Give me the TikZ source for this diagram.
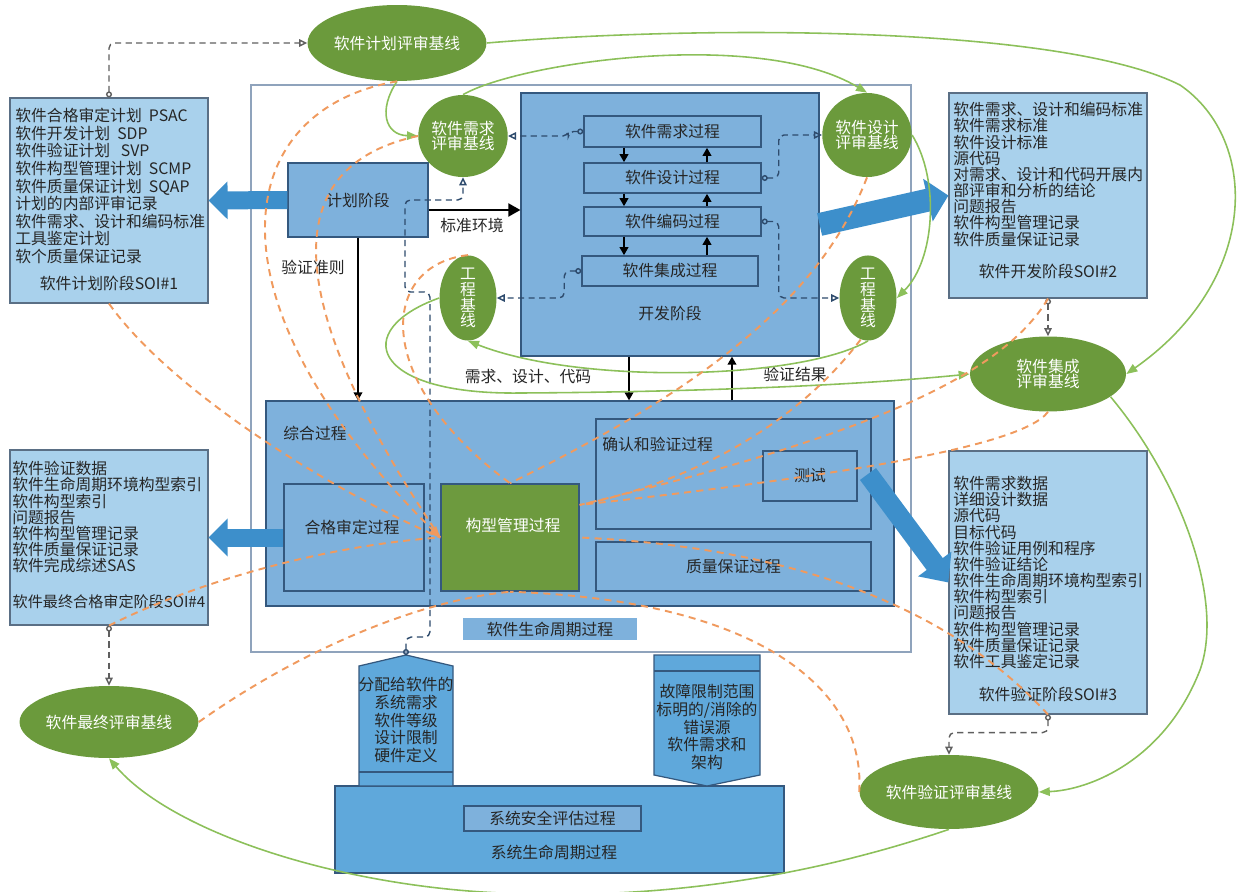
\documentclass[tikz,border=0pt]{standalone}
\usepackage{fontspec}
\setmainfont{Noto Sans CJK SC}
\usepackage{tikz}
\usetikzlibrary{shapes.geometric,arrows.meta}
\definecolor{soifill}{HTML}{A9D1EC}
\definecolor{soiline}{HTML}{5A6F85}
\definecolor{phase}{HTML}{7EB1DC}
\definecolor{phaseline}{HTML}{34587E}
\definecolor{cmgreen}{HTML}{6D9A3E}
\definecolor{blgreen}{HTML}{6B9A3C}
\definecolor{curvegreen}{HTML}{8CC05A}
\definecolor{cmorange}{HTML}{F09A5E}
\definecolor{bigblue}{HTML}{3D8FCB}
\definecolor{sysblue}{HTML}{5FA8DB}
\definecolor{frameline}{HTML}{8FA3BC}
\definecolor{linkblue}{HTML}{2E4B6D}
\definecolor{linkgrey}{HTML}{5F5F5F}
\definecolor{txtcol}{HTML}{262626}
\newcommand{\diagfont}{\fontsize{9pt}{10pt}\selectfont}
\newcommand{\soifont}{\fontsize{9pt}{9.2pt}\selectfont}
\newcommand{\blfont}{\fontsize{9pt}{9pt}\selectfont}
\tikzset{txt/.style={text=txtcol,inner sep=0pt,font=\diagfont}}
\tikzset{listtxt/.style={txt,align=left,anchor=north west,font=\soifont}}
\tikzset{frame/.style={draw=frameline,fill=white,line width=0.8pt,rectangle}}
\tikzset{tag/.style={fill=phase,rectangle,inner sep=0pt,text=txtcol,font=\diagfont}}
\tikzset{soi/.style={draw=soiline,fill=soifill,line width=0.7pt,rectangle}}
\tikzset{phase/.style={draw=phaseline,fill=phase,line width=0.7pt,rectangle,inner sep=0pt,text=txtcol,font=\diagfont}}
\tikzset{proc/.style={phase,line width=0.9pt}}
\tikzset{cmbox/.style={draw=phaseline,fill=cmgreen,line width=0.9pt,rectangle}}
\tikzset{ssabox/.style={draw=phaseline,fill=phase,line width=0.8pt,rectangle,inner sep=0pt,text=txtcol,font=\diagfont}}
\tikzset{sysbox/.style={draw=phaseline,fill=sysblue,line width=0.7pt}}
\tikzset{blnode/.style={ellipse,fill=blgreen,text=white,inner sep=0pt,align=center,font=\blfont}}
\tikzset{bigarrow/.style={draw=bigblue,line width=0.36cm,-{Triangle[length=0.38cm,width=0.74cm]}}}
\tikzset{flow/.style={draw=black,line width=1.1pt,-{Triangle[length=0.16cm,width=0.17cm]}}}
\tikzset{dashlink/.style={draw=linkblue,line width=0.8pt,dash pattern=on 3.5pt off 2.5pt,rounded corners=3pt,{Circle[open,length=0.12cm]}-{Triangle[open,length=0.16cm,width=0.15cm]}}}
\tikzset{greylink/.style={dashlink,draw=linkgrey}}
\tikzset{review/.style={draw=curvegreen,line width=0.9pt,-{Triangle[length=0.22cm,width=0.17cm]}}}
\tikzset{cmlink/.style={draw=cmorange,line width=1.1pt,dash pattern=on 4pt off 3pt}}

\begin{document}
\begin{tikzpicture}[x=0.02cm,y=-0.02cm]
    \useasboundingbox (0,0) rectangle (1251,892);

    % software life cycle
    \node[frame,minimum width=13.2cm,minimum height=11.34cm] (lcframe) at (581,368.5) {};
    \node[tag,minimum width=3.48cm,minimum height=0.44cm] (lctag) at (550,629) {软件生命周期过程};

    \node[phase,minimum width=2.8cm,minimum height=1.48cm] (plan) at (358,200) {计划阶段};
    \node[phase,minimum width=5.96cm,minimum height=5.26cm] (dev) at (670,224.5) {};
    \node[txt] (devl) at (670,313) {开发阶段};
    \node[proc,minimum width=3.54cm,minimum height=0.62cm] (reqp) at (672.5,131.5) {软件需求过程};
    \node[proc,minimum width=3.54cm,minimum height=0.6cm] (desp) at (672.5,178) {软件设计过程};
    \node[proc,minimum width=3.54cm,minimum height=0.58cm] (codp) at (672.5,221.5) {软件编码过程};
    \node[proc,minimum width=3.52cm,minimum height=0.6cm] (intp) at (670,271) {软件集成过程};

    \node[phase,minimum width=12.56cm,minimum height=4.1cm] (integ) at (580,503.5) {};
    \node[txt] (integl) at (315,433) {综合过程};
    \node[proc,minimum width=2.8cm,minimum height=2.14cm] (qual) at (354,537.5) {};
    \node[txt] (quall) at (352,527) {合格审定过程};
    \node[cmbox,minimum width=2.76cm,minimum height=2.14cm] (cm) at (510,537.5) {};
    \node[txt,text=white] (cml) at (513,525) {构型管理过程};
    \node[proc,minimum width=5.5cm,minimum height=2.2cm] (vv) at (733.5,474) {};
    \node[txt,anchor=west] (vvl) at (602,444) {确认和验证过程};
    \node[proc,minimum width=1.88cm,minimum height=1cm] (test) at (810,476) {测试};
    \node[proc,minimum width=5.5cm,minimum height=0.98cm] (qa) at (733.5,566.5) {质量保证过程};

    % SOI data
    \node[soi,minimum width=3.96cm,minimum height=4.1cm] (soi1) at (109,200.5) {};
    \node[listtxt,font=\diagfont] (soi1l) at (15,108)
    {软件合格审定计划\ \ PSAC\\软件开发计划\ \ SDP\\软件验证计划\ \ \ SVP\\软件构型管理计划\ \ SCMP\\软件质量保证计划\ \ SQAP\\计划的内部评审记录\\软件需求、设计和编码标准\\工具鉴定计划\\软个质量保证记录};
    \node[txt] (soi1t) at (109,283) {软件计划阶段SOI\#1};

    \node[soi,minimum width=3.96cm,minimum height=4.1cm] (soi2) at (1048,195.5) {};
    \node[listtxt] (soi2l) at (953,102)
    {软件需求、设计和编码标准\\软件需求标准\\软件设计标准\\源代码\\对需求、设计和代码开展内\\部评审和分析的结论\\问题报告\\软件构型管理记录\\软件质量保证记录};
    \node[txt] (soi2t) at (1048,271) {软件开发阶段SOI\#2};

    \node[soi,minimum width=3.96cm,minimum height=5.26cm] (soi3) at (1048,582.5) {};
    \node[listtxt] (soi3l) at (953,476)
    {软件需求数据\\详细设计数据\\源代码\\目标代码\\软件验证用例和程序\\软件验证结论\\软件生命周期环境构型索引\\软件构型索引\\问题报告\\软件构型管理记录\\软件质量保证记录\\软件工具鉴定记录};
    \node[txt] (soi3t) at (1048,694) {软件验证阶段SOI\#3};

    \node[soi,minimum width=3.96cm,minimum height=3.5cm] (soi4) at (109,537.5) {};
    \node[listtxt] (soi4l) at (12,461)
    {软件验证数据\\软件生命周期环境构型索引\\软件构型索引\\问题报告\\软件构型管理记录\\软件质量保证记录\\软件完成综述SAS};
    \node[txt,font=\fontsize{8.6pt}{9pt}\selectfont] (soi4t) at (109,602) {软件最终合格审定阶段SOI\#4};

    % baselines
    \node[blnode,minimum width=3.1cm,minimum height=1.52cm] (jhbl) at (397,43) {软件计划评审基线};
    \node[blnode,minimum width=1.7cm,minimum height=1.64cm] (xqbl) at (463,136) {软件需求\\评审基线};
    \node[blnode,minimum width=1.7cm,minimum height=1.68cm] (sjbl) at (867,135) {软件设计\\评审基线};
    \node[blnode,minimum width=1.14cm,minimum height=1.66cm] (gcl) at (468,298) {工\\程\\基\\线};
    \node[blnode,minimum width=1.14cm,minimum height=1.66cm] (gcr) at (868,298) {工\\程\\基\\线};
    \node[blnode,minimum width=3.12cm,minimum height=1.5cm] (jcbl) at (1048,374) {软件集成\\评审基线};
    \node[blnode,minimum width=3.12cm,minimum height=1.44cm] (zzbl) at (109,722) {软件最终评审基线};
    \node[blnode,minimum width=3.12cm,minimum height=1.48cm] (yzbl) at (949,792) {软件验证评审基线};

    % system life cycle
    \node[sysbox,minimum width=8.98cm,minimum height=1.74cm] (sys) at (559.5,829.5) {};
    \node[txt] (sysl) at (554,852) {系统生命周期过程};
    \node[ssabox,minimum width=3.54cm,minimum height=0.5cm] (ssa) at (552.5,818.5) {系统安全评估过程};
    \filldraw[sysbox] (359,666) -- (406,655) -- (453,666) -- (453,786) -- (359,786) -- cycle;
    \draw[sysbox] (359,772) -- (453,772);
    \coordinate (alloctop) at (406,655);
    \node[txt,align=center] (alloc) at (406,720) {分配给软件的\\系统需求\\软件等级\\设计限制\\硬件定义};
    \filldraw[sysbox] (654,655) -- (760,655) -- (760,775) -- (707,786) -- (654,775) -- cycle;
    \draw[sysbox] (654,671) -- (760,671);
    \node[txt,align=center] (fault) at (707,727) {故障限制范围\\标明的/消除的\\错误源\\软件需求和\\架构};

    % data flows
    \draw[bigarrow] (plan.west) -- (soi1.east);
    \draw[bigarrow] (qual.west) -- (soi4.east);
    \draw[bigarrow,line width=0.46cm,-{Triangle[length=0.42cm,width=0.85cm]}] (dev.east) -- (soi2.west);
    \coordinate (vvout) at (868,474);
    \draw[bigarrow,line width=0.4cm,-{Triangle[length=0.46cm,width=0.8cm]}] (vvout) -- (soi3.west);

    \coordinate (stdin) at ([yshift=-0.2cm]plan.east);
    \draw[flow,-{Triangle[length=0.24cm,width=0.26cm]}] (stdin) -- (stdin -| dev.west);
    \node[txt] (stdl) at (472,225) {标准环境};
    \draw[flow] (plan.south) -- (plan.south |- integ.north);
    \node[txt] (critl) at (313,267) {验证准则};
    \coordinate (devout) at ([xshift=-0.82cm]dev.south);
    \coordinate (devin) at ([xshift=1.24cm]dev.south);
    \draw[flow] (devout) -- (devout |- integ.north);
    \draw[flow] (devin |- integ.north) -- (devin);
    \node[txt] (rdcl) at (528,377) {需求、设计、代码};
    \node[txt] (resl) at (795,374) {验证结果};

    \coordinate (xdn) at (624,0);
    \coordinate (xup) at (707,0);
    \draw[flow] (reqp.south -| xdn) -- (desp.north -| xdn);
    \draw[flow] (desp.south -| xdn) -- (codp.north -| xdn);
    \draw[flow] (codp.south -| xdn) -- (intp.north -| xdn);
    \draw[flow] (desp.north -| xup) -- (reqp.south -| xup);
    \draw[flow] (codp.north -| xup) -- (desp.south -| xup);
    \draw[flow] (intp.north -| xup) -- (codp.south -| xup);

    % baseline links
    \draw[dashlink] (reqp.west) -- ++(-15,0) |- (xqbl.east);
    \draw[dashlink] (desp.east) -- ++(17,0) |- (sjbl.west);
    \draw[dashlink] (codp.east) -- ++(17,0) |- (gcr.west);
    \draw[dashlink] (intp.west) -- ++(-17,0) |- (gcl.east);
    \draw[dashlink] (alloctop) |- ++(24,-18) |- ++(-25,-345) |- ++(58,-92) -- (xqbl.south);
    \draw[greylink] (soi1.north) |- (jhbl.west);
    \draw[greylink] (soi2.south) -- (jcbl.north);
    \draw[greylink] (soi4.south) -- (zzbl.north);
    \draw[greylink] (soi3.south) -- ++(0,18) -| (yzbl.north);

    % review sequence
    \draw[review] (jhbl.east) .. controls (700,25) and (1060,25) .. (1180,85) .. controls (1260,140) and (1260,280) .. (jcbl.east);
    \draw[review] (jhbl.south) .. controls (378,110) and (385,135) .. (xqbl.west);
    \draw[review] (xqbl.north) .. controls (520,62) and (760,28) .. (sjbl.north);
    \draw[review] (sjbl.east) .. controls (940,180) and (935,260) .. (gcr.east);
    \draw[review] (gcr.south) .. controls (800,380) and (580,385) .. (gcl.south);
    \draw[review] (gcl.west) .. controls (350,330) and (370,395) .. (520,393) .. controls (700,392) and (860,385) .. (jcbl.west);
    \draw[review] (jcbl.-20) .. controls (1180,480) and (1225,600) .. (1200,670) .. controls (1165,760) and (1090,790) .. (yzbl.east);
    \draw[review] (yzbl.south) .. controls (800,880) and (650,900) .. (500,893) .. controls (330,885) and (170,830) .. (zzbl.south);

    % configuration management
    \draw[cmlink,-{Triangle[length=0.22cm,width=0.2cm]}] (jhbl.south) .. controls (230,110) and (200,300) .. (cm.west);
    \draw[cmlink] (xqbl.west) .. controls (260,170) and (300,330) .. (cm.west);
    \draw[cmlink] (soi1.south) .. controls (170,390) and (330,490) .. (cm.west);
    \draw[cmlink] (soi4.south) .. controls (200,580) and (330,545) .. (cm.west);
    \draw[cmlink] (gcl.north) .. controls (380,265) and (370,380) .. (cm.north);
    \draw[cmlink] (sjbl.south) .. controls (820,300) and (700,390) .. (cm.north);
    \draw[cmlink] (gcr.-100) .. controls (800,420) and (700,480) .. (cm.25);
    \draw[cmlink] (soi2.south) .. controls (1000,380) and (850,440) .. (cm.25);
    \draw[cmlink] (jcbl.south) .. controls (1020,450) and (800,480) .. (cm.25);
    \draw[cmlink] (soi3.south) .. controls (980,640) and (850,550) .. (cm.east);
    \draw[cmlink] (yzbl.west) .. controls (866,690) and (760,600) .. (cm.south);
    \draw[cmlink] (zzbl.east) .. controls (300,650) and (420,600) .. (cm.south);
\end{tikzpicture}
\end{document}
